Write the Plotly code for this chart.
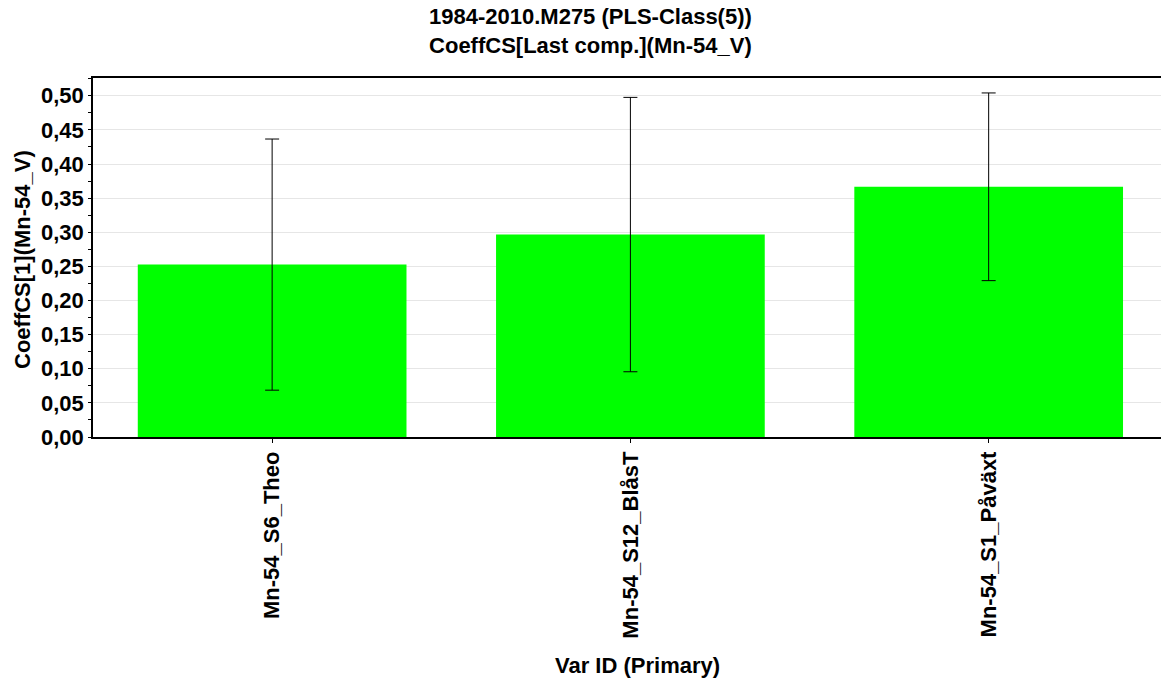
import plotly.graph_objects as go

categories = ["Mn-54_S6_Theo", "Mn-54_S12_BlåsT", "Mn-54_S1_Påväxt"]
coeff_values = [0.2526, 0.2966, 0.3666]
error_values = [0.184, 0.201, 0.1375]

title_lines = ["1984-2010.M275 (PLS-Class(5))", "CoeffCS[Last comp.](Mn-54_V)"]
x_title = "Var ID (Primary)"
y_title = "CoeffCS[1](Mn-54_V)"

W, H = 1161, 680
L, T = 93, 78
B = H - 437
FONT = "Liberation Sans, Arial, sans-serif"
FS = 22
PH = H - T - B
PW = W - L


def px(xp):
    return (xp - L) / PW


def py(yp):
    return 1 - (yp - T) / PH


fig = go.Figure()
fig.add_trace(go.Bar(
    x=categories,
    y=coeff_values,
    width=0.75,
    marker=dict(color="#00ff00", line=dict(width=0)),
    error_y=dict(type="data", array=error_values, visible=True,
                 color="black", thickness=1, width=7),
    showlegend=False,
))

fig.update_layout(
    width=W, height=H,
    margin=dict(l=L, r=0, t=T, b=B, pad=0),
    paper_bgcolor="white", plot_bgcolor="white",
    separators=",.",
    font=dict(family=FONT, size=FS, color="black"),
    bargap=0.25,
)

fig.update_xaxes(
    range=[-0.5, 2.481],
    showline=True, linecolor="black", linewidth=1.5, mirror=True,
    ticks="outside", ticklen=4, tickcolor="black",
    tickangle=-90,
    tickfont=dict(family=FONT, size=FS, weight="bold"),
    showgrid=False,
)
fig.update_yaxes(
    range=[0, 0.526],
    dtick=0.05, tick0=0, tickformat=".2f",
    showline=True, linecolor="black", linewidth=1.5,
    ticks="outside", ticklen=3, tickcolor="black",
    minor=dict(dtick=0.025, ticks="outside", ticklen=3, tickcolor="black", showgrid=False),
    tickfont=dict(family=FONT, size=FS, weight="bold"),
    showgrid=True, gridcolor="#e6e6e6", gridwidth=1,
    zeroline=False,
)

fig.add_annotation(
    text="<b>" + title_lines[0] + "</b><br><b>" + title_lines[1] + "</b>",
    xref="paper", yref="paper",
    x=px(590), y=py(31),
    xanchor="center", yanchor="middle", showarrow=False,
    font=dict(family=FONT, size=FS, color="black"),
)
fig.add_annotation(
    text="<b>" + x_title + "</b>",
    xref="paper", yref="paper",
    x=px(637), y=py(665),
    xanchor="center", yanchor="middle", showarrow=False,
    font=dict(family=FONT, size=FS, color="black"),
)
fig.add_annotation(
    text="<b>" + y_title + "</b>",
    xref="paper", yref="paper",
    x=px(22), y=py(260),
    xanchor="center", yanchor="middle", showarrow=False, textangle=-90,
    font=dict(family=FONT, size=FS, color="black"),
)

fig.write_html(
    "out.html",
    config={"displayModeBar": False},
    post_script="document.body.style.margin='0';document.body.style.overflow='hidden';",
)
